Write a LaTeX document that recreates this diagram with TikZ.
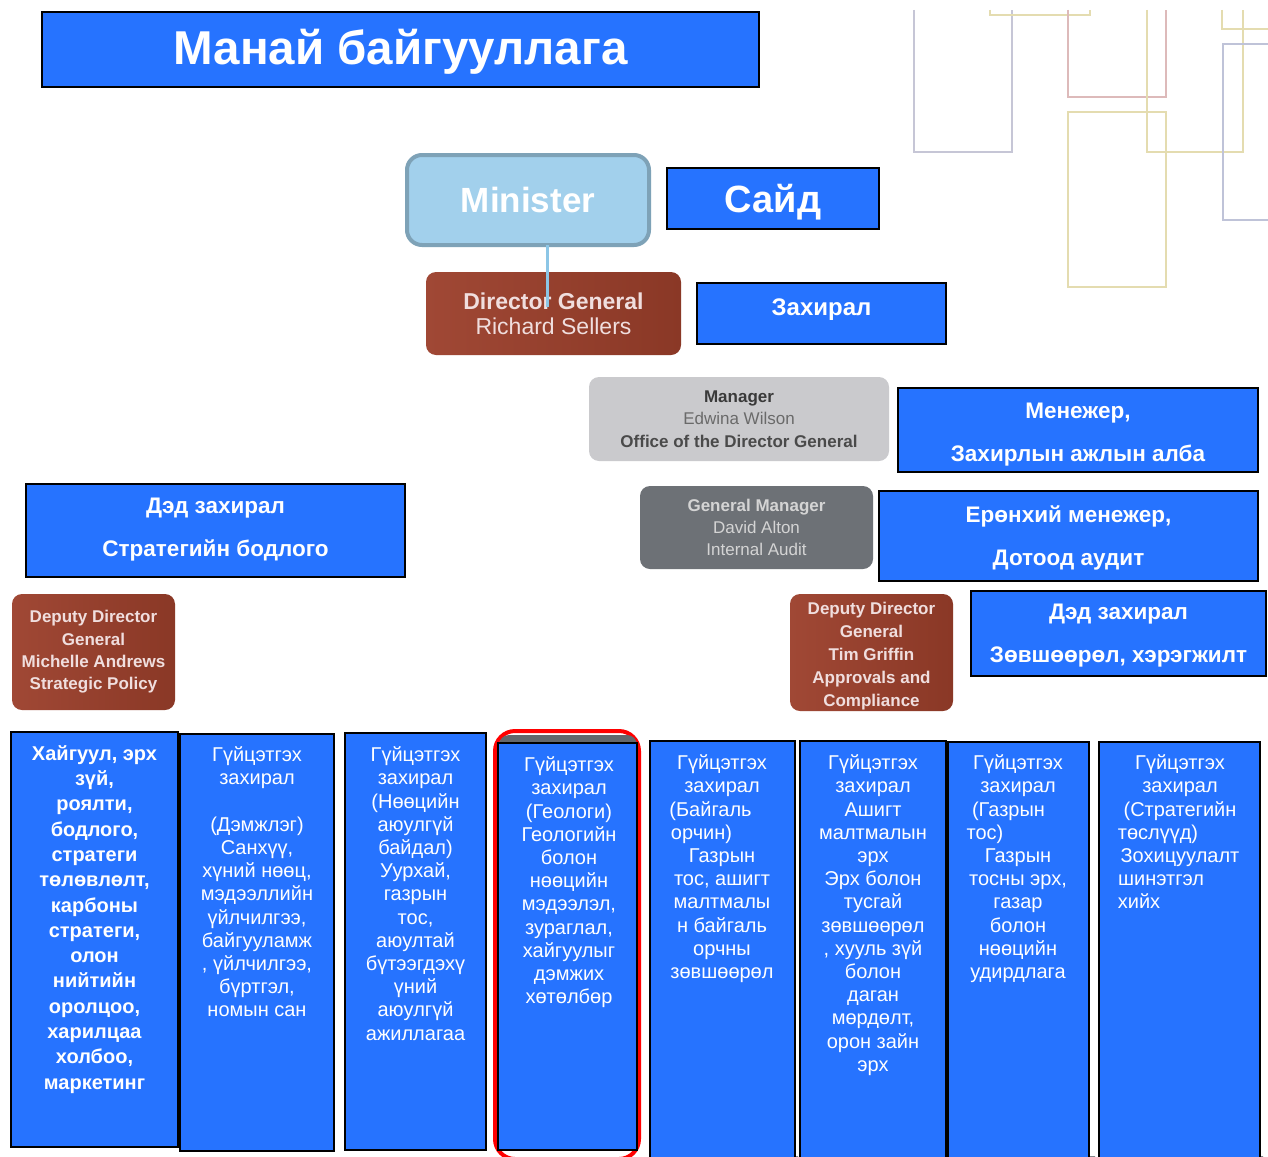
\documentclass[tikz,border=0pt]{standalone}
\usepackage{fontspec}
\setmainfont{Liberation Sans}
\usetikzlibrary{calc}
\definecolor{bl}{HTML}{2673FF}
\definecolor{brn}{HTML}{8A3826}
\definecolor{brnL}{HTML}{A04835}
\definecolor{minfill}{HTML}{A2D0EC}
\definecolor{minedge}{HTML}{7EA2B7}
\definecolor{mgrfill}{HTML}{CACACD}
\definecolor{gmfill}{HTML}{6D7176}
\definecolor{conncol}{HTML}{7F7F7F}
\definecolor{minline}{HTML}{8CC6E6}
\definecolor{shdcol}{HTML}{63676C}
\definecolor{dpur}{HTML}{C6C6D6}
\definecolor{dpink}{HTML}{DDBABA}
\definecolor{dyel}{HTML}{E4DCB0}
\definecolor{dblu}{HTML}{BFC3D8}
\definecolor{brtxt}{HTML}{F0DEDE}
\definecolor{mgrA}{HTML}{3A3A3A}
\definecolor{mgrB}{HTML}{6A6A6A}
\definecolor{mgrC}{HTML}{4A4A4A}
\definecolor{gmtxt}{HTML}{D4D4D4}
\pgfdeclarelayer{background}
\pgfsetlayers{background,main}
\tikzset{
  box/.style={anchor=north west, inner sep=0pt, outer sep=0pt},
  hbox/.style={box, draw=black, line width=1.5pt, fill=bl},
  htext/.style={inner sep=0pt, text=white, align=center},
  hfont/.style={font=\bfseries\fontsize{22.5}{43}\selectfont},
  bbox/.style={box, draw=black, line width=1.5pt, fill=bl},
  btext/.style={anchor=north, inner sep=0pt, text=white, align=center, font=\fontsize{20}{23.2}\selectfont},
  brbox/.style={box, rounded corners=10pt, left color=brnL, right color=brn, align=center, text=brtxt},
  conn/.style={draw=conncol, line width=1.5pt},
  deco/.style={line width=1.6pt},
  shd/.style={fill=shdcol, rounded corners=8pt, opacity=0.8},
}
\begin{document}
\begin{tikzpicture}[x=1pt,y=-1pt]
\useasboundingbox (0,0) rectangle (1268,1156);
\fill[white] (0,0) rectangle (1268,1156);

% decorative faint frames
\draw[deco, dpur] (914,10) -- (914,152) -- (1012,152) -- (1012,10);
\draw[deco, dyel] (990,10) -- (990,15) -- (1090,15) -- (1090,10);
\draw[deco, dpink] (1068,10) -- (1068,97) -- (1166,97) -- (1166,10);
\draw[deco, dyel] (1147,10) -- (1147,152) -- (1243,152) -- (1243,10);
\draw[deco, dyel] (1068,112) rectangle (1166,287);
\draw[deco, dyel] (1222,10) -- (1222,29) -- (1268,29);
\draw[deco, dblu] (1268,44) -- (1223,44) -- (1223,220) -- (1268,220);

% title and top
\node[hbox, minimum width=717pt, minimum height=75pt] (title) at (42,12) {};
\node[htext, font=\bfseries\fontsize{47.5}{50}\selectfont] (titlet) at ($(title.center)+(0,2)$) {Манай байгууллага};
\node[box, rounded corners=15pt, fill=minfill, draw=minedge, line width=4pt, minimum width=242pt, minimum height=90pt, text=white, font=\bfseries\fontsize{35}{40}\selectfont] (min) at (407,155) {Minister};
\node[hbox, minimum width=212pt, minimum height=61pt] (said) at (667,168) {};
\node[htext, font=\bfseries\fontsize{38}{42}\selectfont] (saidt) at ($(said.center)+(0,4)$) {Сайд};

\node[brbox, minimum width=255pt, minimum height=83pt, font=\fontsize{23}{25}\selectfont] (dg) at (426,272) {\textbf{Director General}\\Richard Sellers};
\node[hbox, minimum width=249pt, minimum height=61pt] (zah) at (697,283) {};
\node[htext, font=\bfseries\fontsize{24}{26}\selectfont] (zaht) at ($(zah.center)+(0,-4)$) {Захирал};

\node[box, rounded corners=10pt, fill=mgrfill, minimum width=300pt, minimum height=84pt, align=center, font=\fontsize{17}{22.5}\selectfont] (mgr) at (589,377) {\textbf{\textcolor{mgrA}{Manager}}\\\textcolor{mgrB}{Edwina Wilson}\\\textbf{\textcolor{mgrC}{Office of the Director General}}};
\node[hbox, minimum width=360pt, minimum height=84pt] (menj) at (898,388) {};
\node[htext, hfont] (menjt) at ($(menj.center)+(0,5)$) {Менежер,\\Захирлын ажлын алба};

\node[box, rounded corners=10pt, fill=gmfill, minimum width=233pt, minimum height=83pt, text=gmtxt, align=center, font=\fontsize{17}{22}\selectfont] (gm) at (640,486) {\textbf{General Manager}\\David Alton\\Internal Audit};
\node[hbox, minimum width=379pt, minimum height=90pt] (ergm) at (879,491) {};
\node[htext, hfont] (ergmt) at ($(ergm.center)+(0,2)$) {Ерөнхий менежер,\\Дотоод аудит};

\node[hbox, minimum width=379pt, minimum height=93pt] (dedl) at (26,484) {};
\node[htext, hfont] (dedlt) at ($(dedl.center)+(0,-1)$) {Дэд захирал\\Стратегийн бодлого};
\node[brbox, minimum width=163pt, minimum height=116pt, font=\bfseries\fontsize{17}{22.3}\selectfont] (ddgl) at (12,594) {Deputy Director\\General\\Michelle Andrews\\Strategic Policy};
\node[brbox, minimum width=163pt, minimum height=117pt] (ddgr) at (790,594) {};
\node[htext, text=brtxt, font=\bfseries\fontsize{17}{23.2}\selectfont] (ddgrt) at ($(ddgr.center)+(0,3.5)$) {Deputy Director\\General\\Tim Griffin\\Approvals and\\Compliance};
\node[hbox, minimum width=295pt, minimum height=85pt] (dedr) at (971,591) {};
\node[htext, hfont] (dedrt) at ($(dedr.center)+(0,2)$) {Дэд захирал\\Зөвшөөрөл, хэрэгжилт};

% bottom boxes
\node[bbox, minimum width=167pt, minimum height=415pt] (b1) at (11,732) {};
\node[bbox, minimum width=154pt, minimum height=417pt] (b2) at (180,734) {};
\node[bbox, minimum width=141pt, minimum height=417pt] (b3) at (345,733) {};
\draw[red, line width=4pt, rounded corners=20pt] (495,731) rectangle (639,1159);
\fill[shdcol, rounded corners=10pt] (499,735) rectangle (637,760);
\node[bbox, minimum width=139pt, minimum height=407pt] (b4) at (498,743) {};
\node[bbox, minimum width=145pt, minimum height=420pt] (b5) at (650,741) {};
\node[bbox, minimum width=146pt, minimum height=420pt] (b6) at (800,741) {};
\node[bbox, minimum width=141pt, minimum height=420pt] (b7) at (948,742) {};
\node[bbox, minimum width=161pt, minimum height=420pt] (b8) at (1099,742) {};

\node[btext, font=\bfseries\fontsize{20}{25.3}\selectfont] (t1) at (94.5,742) {\rule{0pt}{18pt}Хайгуул, эрх\\зүй,\\роялти,\\бодлого,\\стратеги\\төлөвлөлт,\\карбоны\\стратеги,\\олон\\нийтийн\\оролцоо,\\харилцаа\\холбоо,\\маркетинг};
\node[btext] (t2) at (257,743.5) {\rule{0pt}{18pt}Гүйцэтгэх\\захирал\\~\\(Дэмжлэг)\\Санхүү,\\хүний нөөц,\\мэдээллийн\\үйлчилгээ,\\байгууламж\\, үйлчилгээ,\\бүртгэл,\\номын сан};
\node[btext] (t3) at (415.5,743.5) {\rule{0pt}{18pt}Гүйцэтгэх\\захирал\\(Нөөцийн\\аюулгүй\\байдал)\\Уурхай,\\газрын\\тос,\\аюултай\\бүтээгдэхү\\үний\\аюулгүй\\ажиллагаа};
\node[btext] (t4) at (569,753.5) {\rule{0pt}{18pt}Гүйцэтгэх\\захирал\\(Геологи)\\Геологийн\\болон\\нөөцийн\\мэдээлэл,\\зураглал,\\хайгуулыг\\дэмжих\\хөтөлбөр};
\node[btext] (t5) at (722,751.5) {\rule{0pt}{18pt}Гүйцэтгэх\\захирал\\(Байгаль\hspace*{23pt}\hbox{}\\орчин)\hspace*{41pt}\hbox{}\\Газрын\\тос, ашигт\\малтмалы\\н байгаль\\орчны\\зөвшөөрөл};
\node[btext] (t6) at (873,751.5) {\rule{0pt}{18pt}Гүйцэтгэх\\захирал\\Ашигт\\малтмалын\\эрх\\Эрх болон\\тусгай\\зөвшөөрөл\\, хууль зүй\\болон\\даган\\мөрдөлт,\\орон зайн\\эрх};
\node[btext] (t7) at (1018,751.5) {\rule{0pt}{18pt}Гүйцэтгэх\\захирал\\(Газрын\hspace*{19pt}\hbox{}\\тос)\hspace*{66pt}\hbox{}\\Газрын\\тосны эрх,\\газар\\болон\\нөөцийн\\удирдлага};
\node[btext] (t8) at (1180,751.5) {\rule{0pt}{18pt}Гүйцэтгэх\\захирал\\(Стратегийн\\төслүүд)\hspace*{44pt}\hbox{}\\Зохицуулалт\\шинэтгэл\hspace*{38pt}\hbox{}\\хийх\hspace*{82pt}\hbox{}};

\coordinate (trunk) at (569,720);
\coordinate (rbar) at (871,725);

\begin{pgfonlayer}{background}
\fill[shd] (183,738) rectangle (338,1155);
\fill[shd] (348,737) rectangle (490,1154);
\fill[shd] (652,735) rectangle (798,1170);
\fill[shd] (802,735) rectangle (950,1170);
\fill[shd] (950,736) rectangle (1095,1170);
\fill[shd] (1101,735) rectangle (1263,1170);
\draw[conn] (dg.south -| trunk) -- (trunk);
\draw[conn] (mgr.west -| trunk) -- (mgr.west);
\draw[conn] (gm.west -| trunk) -- (gm.west);
\draw[conn] (ddgl.east) -- (ddgr.west);
\draw[conn] (ddgl.south) -- (ddgl.south |- b1.north);
\draw[conn] (b2.north) -- (b2.north |- trunk) -- (trunk) -- (trunk |- b4.north);
\draw[conn] (b3.north) -- (b3.north |- trunk);
\draw[conn] (ddgr.south) -- (ddgr.south |- rbar);
\draw[conn] (b5.north) -- (b5.north |- rbar) -- (b8.north |- rbar) -- (b8.north);
\draw[conn] (b6.north) -- (b6.north |- rbar);
\draw[conn] (b7.north) -- (b7.north |- rbar);
\end{pgfonlayer}

\coordinate (minend) at (547,307);
\draw[minline, line width=3pt] (min.south -| minend) -- (minend);
\end{tikzpicture}
\end{document}
